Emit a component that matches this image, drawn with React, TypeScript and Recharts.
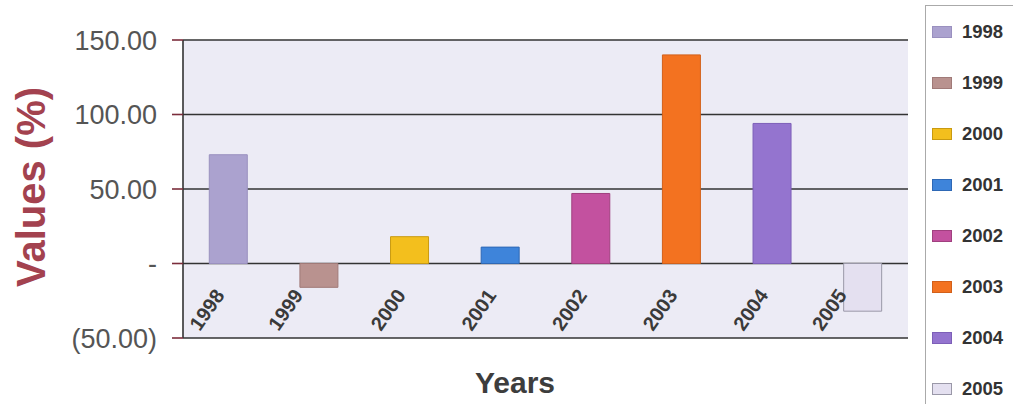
import React from "react";
import { BarChart, Bar, Cell, XAxis, YAxis, CartesianGrid } from "recharts";

const years = ["1998", "1999", "2000", "2001", "2002", "2003", "2004", "2005"];
const values = [73, -16, 18, 11, 47, 140, 94, -32];
const colors = ["#aba2cf", "#b9928f", "#f3bf1d", "#3e84da", "#c3519f", "#f37220", "#9474cf", "#e4e0f0"];
const borders = ["#9a90bf", "#a07a78", "#c99a10", "#2e68b5", "#a0407f", "#d2601a", "#7d5fb8", "#9a98a8"];
const yTicks = [-50, 0, 50, 100, 150];

const W = 1013;
const H = 404;
const TOP = 40;
const PLOT_BOTTOM = 338;
const PLOT_LEFT = 183;
const PLOT_RIGHT = 908;
const Y_MIN = -50;
const Y_MAX = 150;
const FONT = '"Liberation Sans", Arial, sans-serif';

const data = years.map((year, i) => ({ year, value: values[i] }));

const formatTick = (v: number) =>
  v === 0 ? "-" : v < 0 ? `(${Math.abs(v).toFixed(2)})` : v.toFixed(2);

// y pixel of the zero line, the year labels hang from it
const zeroY = TOP + (PLOT_BOTTOM - TOP) * (Y_MAX / (Y_MAX - Y_MIN));

function YearTick({ x, payload, index }: any) {
  // labels under negative bars are nudged left so they clear the bar
  const tx = x - 3 - (values[index] < 0 ? 12 : 0);
  const ty = zeroY + 32;
  return (
    <text
      x={tx}
      y={ty}
      transform={`rotate(-55 ${tx} ${ty})`}
      textAnchor="end"
      fontFamily={FONT}
      fontWeight="bold"
      fontSize={20}
      fill="#3a3a3a"
    >
      {payload.value}
    </text>
  );
}

export default function App() {
  return (
    <div style={{ position: "absolute", left: 0, top: 0, width: W, height: H, background: "#fff", overflow: "hidden" }}>
      <BarChart
        width={W}
        height={H}
        data={data}
        barCategoryGap="29%"
        margin={{ top: TOP, right: W - PLOT_RIGHT, bottom: H - PLOT_BOTTOM - 20, left: PLOT_LEFT - 100 }}
      >
        <CartesianGrid vertical={false} fill="#ecebf5" fillOpacity={1} stroke="#333" strokeWidth={1.6} />
        <XAxis dataKey="year" height={20} axisLine={false} tickLine={false} tick={<YearTick />} interval={0} />
        <YAxis
          width={100}
          domain={[Y_MIN, Y_MAX]}
          ticks={yTicks}
          tickFormatter={formatTick}
          tickSize={11}
          tickMargin={15}
          tickLine={{ stroke: "#7b2d3b", strokeWidth: 1.6 }}
          axisLine={{ stroke: "#333", strokeWidth: 1.6 }}
          tick={{ fill: "#555", fontSize: 27, fontFamily: FONT }}
        />
        <YAxis yAxisId="right" orientation="right" width={0} tick={false} tickLine={false} axisLine={{ stroke: "#333", strokeWidth: 1.6 }} />
        <Bar dataKey="value" isAnimationActive={false} strokeWidth={1}>
          {years.map((y, i) => (
            <Cell key={y} fill={colors[i]} stroke={borders[i]} />
          ))}
        </Bar>
      </BarChart>

      <div
        style={{
          position: "absolute",
          left: 31,
          top: 187,
          transform: "translate(-50%, -50%) rotate(-90deg)",
          whiteSpace: "nowrap",
          fontFamily: FONT,
          fontWeight: "bold",
          fontSize: 40,
          color: "#a3424f",
        }}
      >
        Values (%)
      </div>
      <div
        style={{
          position: "absolute",
          left: 515,
          top: 383,
          transform: "translate(-50%, -50%)",
          whiteSpace: "nowrap",
          fontFamily: FONT,
          fontWeight: "bold",
          fontSize: 30,
          color: "#3d3d3d",
        }}
      >
        Years
      </div>

      <div
        style={{
          position: "absolute",
          left: 925,
          top: 5,
          width: 100,
          height: 420,
          border: "1px solid #aaa",
          background: "#fff",
          fontFamily: FONT,
        }}
      >
        {years.map((y, i) => (
          <div
            key={y}
            style={{ position: "absolute", left: 6, top: 15 + i * 51, display: "flex", alignItems: "center", height: 22 }}
          >
            <span style={{ display: "inline-block", width: 20, height: 12, background: colors[i], border: `1px solid ${borders[i]}`, boxSizing: "border-box" }} />
            <span style={{ marginLeft: 10, fontSize: 18.5, fontWeight: "bold", color: "#333" }}>{y}</span>
          </div>
        ))}
      </div>
    </div>
  );
}
